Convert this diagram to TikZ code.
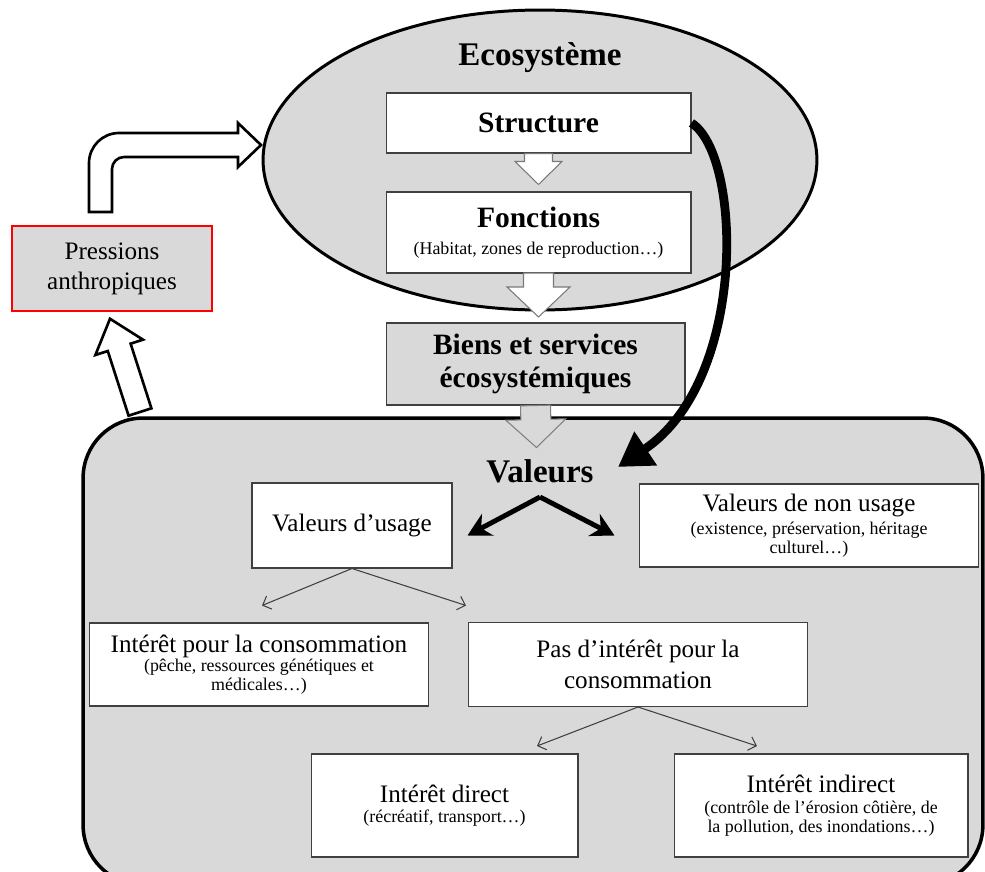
\documentclass[tikz,border=0pt]{standalone}
\usepackage{fontspec}
\setmainfont{Liberation Serif}
\usetikzlibrary{calc,shapes.geometric,arrows.meta}
\definecolor{fond}{HTML}{D9D9D9}
\definecolor{trait}{HTML}{404040}
\newcommand\grand{\fontsize{18.8}{21}\selectfont\bfseries}
\newcommand\titre{\fontsize{16.8}{18.8}\selectfont\bfseries}
\newcommand\texte{\fontsize{14.3}{17}\selectfont}
\newcommand\petit{\fontsize{10.2}{11}\selectfont}
\newcommand\blocfleche[6][]{%
\coordinate (bf-base) at ($(#3)!#6!(#2)$);
\draw[#1]($(#2)!#4!90:(#3)$)--($(bf-base)!#4!90:(#3)$)--($(bf-base)!#5!90:(#3)$)--(#3)
--($(bf-base)!#5!-90:(#3)$)--($(bf-base)!#4!-90:(#3)$)--($(#2)!#4!-90:(#3)$)--cycle;}
\begin{document}
\begin{tikzpicture}[x=0.02cm,y=-0.02cm,
boite/.style={draw=trait,line width=0.6pt,fill=white,align=center,inner sep=0pt},
grise/.style={boite,fill=fond},
fine/.style={draw=trait,line width=0.6pt,-{Straight Barb[length=4pt,width=8pt]}},
epaisse/.style={line width=2.8pt,-{Stealth[length=13pt,width=14pt]}},
bloc/.style={draw,line width=1.5pt,fill=white,line join=miter},
blocfin/.style={draw=trait!70,line width=0.6pt,fill=white},
blocgris/.style={draw=gray,line width=0.6pt,fill=fond}]
\useasboundingbox(0,0)rectangle(985,872);
\clip(0,0)rectangle(985,872);

\node[draw,line width=2pt,fill=fond,rounded corners=1.2cm,minimum width=18cm,minimum height=9.34cm](cadre)at(533,651.5){};
\node[ellipse,draw,line width=1.7pt,fill=fond,minimum width=11.08cm,minimum height=6cm](eco)at(540,160){};
\node[font=\grand,anchor=base,inner sep=0pt](ecotitre)at(540,65){Ecosystème};
\node[boite,font=\titre,minimum width=6.1cm,minimum height=1.2cm](structure)at(538.5,123){Structure};
\node[boite,font=\petit,minimum width=6.1cm,minimum height=1.62cm](fonctions)at(538.5,232.5){{\titre Fonctions}\\[4pt](Habitat, zones de reproduction…)};
\node[grise,font=\titre,minimum width=5.98cm,minimum height=1.64cm](biens)at(535.5,364){Biens et services\\écosystémiques};
\node[grise,draw=red,line width=0.9pt,font=\texte,minimum width=4cm,minimum height=1.7cm](pressions)at(112,268.5){Pressions\\anthropiques};
\node[font=\grand,anchor=base,inner sep=0pt](valeurs)at(540,482){Valeurs};
\node[boite,font=\texte,minimum width=4cm,minimum height=1.7cm](usage)at(352,525.5){Valeurs d’usage};
\node[boite,font=\petit,minimum width=6.8cm,minimum height=1.66cm](nonusage)at(809,525.5){{\texte Valeurs de non usage}\\[2pt](existence, préservation, héritage\\culturel…)};
\node[boite,font=\petit,minimum width=6.8cm,minimum height=1.66cm](conso)at(259,664.5){{\texte Intérêt pour la consommation}\\(pêche, ressources génétiques et\\médicales…)};
\node[boite,font=\texte,minimum width=6.8cm,minimum height=1.68cm](pasconso)at(638,664.5){Pas d’intérêt pour la\\[1pt]consommation};
\node[boite,font=\petit,minimum width=5.34cm,minimum height=2.06cm](direct)at(444.5,805.5){{\texte Intérêt direct}\\(récréatif, transport…)};
\node[boite,font=\petit,minimum width=5.88cm,minimum height=2.06cm](indirect)at(821,805.5){{\texte Intérêt indirect}\\[1pt](contrôle de l’érosion côtière, de\\la pollution, des inondations…)};

\coordinate(pointe1)at($(fonctions.north)+(0,-7)$);
\coordinate(depart2)at(538.5,273);
\coordinate(pointe2)at(538.5,317);
\coordinate(pointe3)at($(biens.south)+(1,42)$);
\coordinate(pointe4)at($(pressions.south)+(-2,7)$);
\coordinate(depart4)at(140,412);
\coordinate(sommet)at($(valeurs.base)+(0,15)$);
\coordinate(valpointe)at(618,467);
\blocfleche[blocfin]{structure.south}{pointe1}{0.28cm}{0.47cm}{0.46cm}
\blocfleche[blocfin]{depart2}{pointe2}{0.3cm}{0.63cm}{0.6cm}
\blocfleche[blocgris]{biens.south}{pointe3}{0.3cm}{0.6cm}{0.56cm}
\blocfleche[bloc]{depart4}{pointe4}{0.24cm}{0.5cm}{0.6cm}
\draw[bloc](89,212)--(89,163)arc(180:270:30)--(238,133)--(238,123)--(261,145)--(238,167)--(238,157)--(124,157)arc(270:180:12)--(112,212)--cycle;

\draw[epaisse](sommet)--($(usage.east)+(15,10)$);
\draw[epaisse](sommet)--($(nonusage.west)+(-24,10)$);
\draw[fine](usage.south)--($(usage.south)+(-90,37)$);
\draw[fine](usage.south)--($(usage.south)+(114,37)$);
\draw[fine](pasconso.south)--($(pasconso.south)+(-101,39)$);
\draw[fine](pasconso.south)--($(pasconso.south)+(119,39)$);
\draw[line width=5pt,-{Triangle[length=19pt,width=22pt]}](structure.east)..controls(742,155)and(748,380)..(valpointe);
\end{tikzpicture}
\end{document}
